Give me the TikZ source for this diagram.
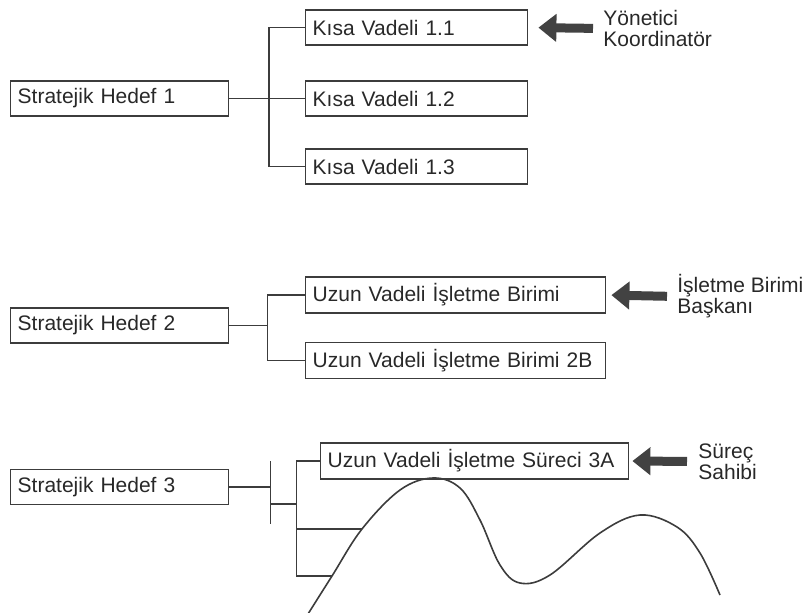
\documentclass[tikz,border=0pt]{standalone}
\usepackage{fontspec}
\setmainfont{Liberation Sans}
\usepackage{tikz}
\usetikzlibrary{arrows.meta}
\definecolor{ink}{RGB}{40,40,40}
\definecolor{linegray}{RGB}{60,60,60}
\definecolor{arrowgray}{RGB}{66,66,66}
\newcommand{\widthgoal}{102pt}
\newcommand{\widthshort}{104pt}
\newcommand{\widthlong}{143pt}
\newcommand{\widthprocess}{147pt}
\tikzset{
    common/.style={anchor=west, draw=linegray, line width=0.7pt, rectangle, minimum height=17.5pt,
        inner xsep=3.5pt, align=left, text=ink, font=\fontsize{10.5}{11}\selectfont},
    goal/.style={common, text width=\widthgoal},
    short/.style={common, text width=\widthshort},
    long/.style={common, text width=\widthlong},
    process/.style={common, text width=\widthprocess},
    note/.style={anchor=west, inner sep=0pt, align=left, text=ink, font=\fontsize{10.5}{10.5}\selectfont},
    link/.style={draw=linegray, line width=0.8pt},
    pointer/.style={draw=arrowgray, line width=4.5pt, -{Triangle[length=9pt, width=13.5pt]}}
}

\begin{document}
\begin{tikzpicture}[x=0.5pt, y=-0.5pt]
        \useasboundingbox (0,0) rectangle (810,612);

        \path
            (10,98.5) node[goal] (goal1) {Stratejik Hedef 1}
            to ++(295,-71) node[short] (short11) {Kısa Vadeli 1.1}
            to ++(0,71) node[short] (short12) {Kısa Vadeli 1.2}
            to ++(0,68) node[short] (short13) {Kısa Vadeli 1.3};
        \path (short11.west)
            to ++(298,1) node[note] (owner1) {Yönetici\\Koordinatör};

        \path
            (10,325.5) node[goal] (goal2) {Stratejik Hedef 2}
            to ++(295,-30.5) node[long] (long2a) {Uzun Vadeli İşletme Birimi}
            to ++(0,65.5) node[long] (long2b) {Uzun Vadeli İşletme Birimi 2B};
        \path (long2a.west)
            to ++(372,1.5) node[note] (owner2) {İşletme Birimi\\Başkanı};

        \path
            (10,487) node[goal] (goal3) {Stratejik Hedef 3}
            to ++(310,-26) node[process] (proc3a) {Uzun Vadeli İşletme Süreci 3A};
        \path (proc3a.west)
            to ++(378,0.5) node[note] (owner3) {Süreç\\Sahibi};

        % tree 1
        \draw[link] (goal1.east) -- (short12.west);
        \draw[link] (short11.west) -- ++(-36,0) coordinate (j1) -- (j1 |- short13.west) -- (short13.west);

        % tree 2
        \draw[link] (goal2.east) -- ++(38,0) coordinate (j2);
        \draw[link] (long2a.west) -- (long2a.west -| j2) -- (long2b.west -| j2) -- (long2b.west);

        % tree 3
        \coordinate (c1) at (362,529);
        \coordinate (c2) at (332,576);
        \draw[link] (goal3.east) -- ++(41,0) coordinate (bar);
        \draw[link] (bar) ++(0,-26) -- ++(0,63);
        \draw[link] (bar) ++(0,17) -- ++(26,0) coordinate (j3);
        \draw[link] (proc3a.west) -- (proc3a.west -| j3) -- (j3 |- c2) -- (c2);
        \draw[link] (j3 |- c1) -- (c1);
        \draw[link] plot[smooth, tension=0.6] coordinates {
            (308,614) (332,576) (362,529) (400,490) (433,478) (460,488) (480,520)
            (500,565) (520,583) (550,575) (600,533) (640,515) (677,527) (700,553) (720,595)};

        % owners
        \draw[pointer, shorten <=5pt, shorten >=5pt] (owner1.west) -- (short11.east);
        \draw[pointer, shorten <=5pt, shorten >=2.5pt] (owner2.west) -- (long2a.east);
        \draw[pointer, shorten <=5.5pt, shorten >=1.5pt] (owner3.west) -- (proc3a.east);
    \end{tikzpicture}
\end{document}
